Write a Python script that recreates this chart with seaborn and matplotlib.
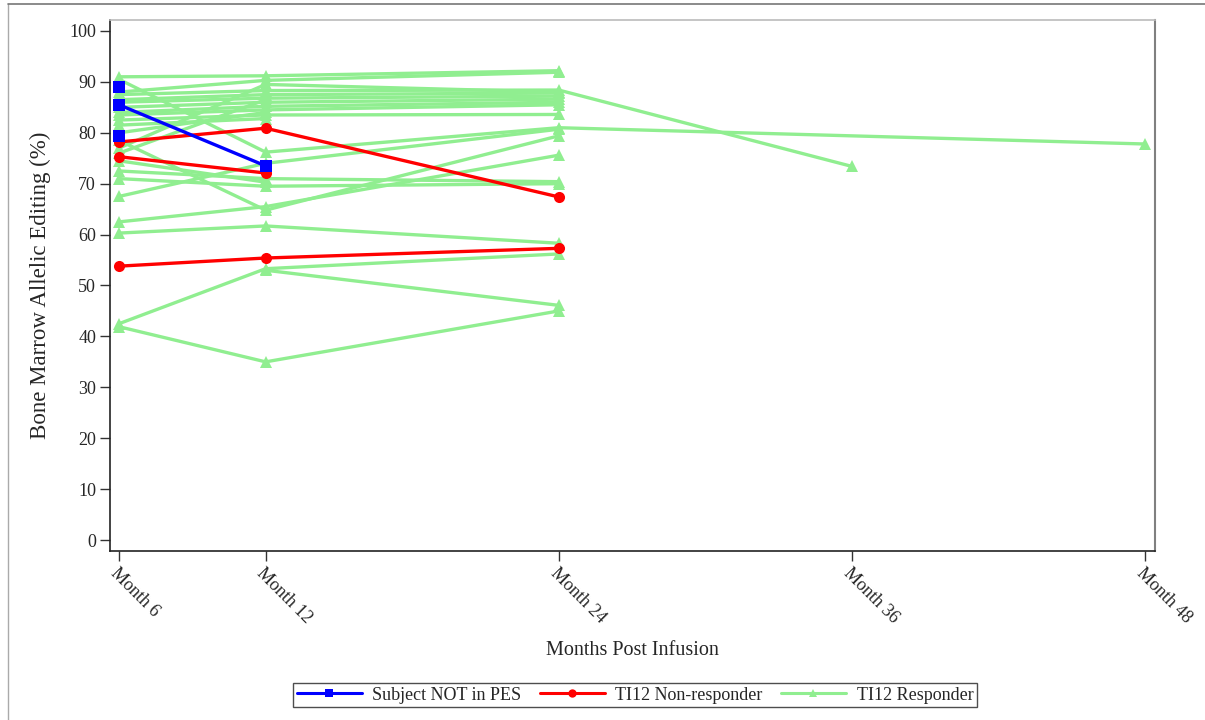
import numpy as np
import pandas as pd
import matplotlib
matplotlib.use("Agg")
import matplotlib.pyplot as plt
import seaborn as sns
from matplotlib.lines import Line2D

# ---------------- data ----------------
months = [6, 12, 24, 36, 48]
tick_labels = ["Month 6", "Month 12", "Month 24", "Month 36", "Month 48"]
groups = ["Subject NOT in PES", "TI12 Non-responder", "TI12 Responder"]
nan = np.nan

blue_subjects = [
    [89.0, nan, nan, nan, nan],
    [85.5, 73.5, nan, nan, nan],
    [79.3, nan, nan, nan, nan],
]
red_subjects = [
    [78.2, 80.9, 67.4, nan, nan],
    [75.3, 72.1, nan, nan, nan],
    [53.8, 55.4, 57.3, nan, nan],
]
green_subjects = [
    [91.0, 91.2, 92.2, nan, nan],
    [90.5, 76.2, 81.0, nan, 77.8],
    [88.0, 90.3, 91.9, nan, nan],
    [87.5, 88.3, 88.4, 73.4, nan],
    [86.5, 87.5, 87.8, nan, nan],
    [86.0, 86.8, 87.2, nan, nan],
    [85.0, 86.0, 86.6, nan, nan],
    [84.0, 85.2, 86.0, nan, nan],
    [83.5, 84.5, 85.5, nan, nan],
    [82.5, 83.5, 83.6, nan, nan],
    [81.5, 82.8, nan, nan, nan],
    [77.0, 89.5, 88.0, nan, nan],
    [76.0, 86.5, nan, nan, nan],
    [78.5, 64.8, 79.4, nan, nan],
    [62.5, 65.5, 75.6, nan, nan],
    [67.5, 74.0, 80.7, nan, nan],
    [72.5, 71.0, 70.4, nan, nan],
    [71.0, 69.5, 70.0, nan, nan],
    [74.5, 70.3, nan, nan, nan],
    [60.3, 61.7, 58.3, nan, nan],
    [42.5, 53.3, 56.2, nan, nan],
    [41.9, 35.0, 45.0, nan, nan],
    [nan, 53.0, 46.1, nan, nan],
    [80.0, 84.0, nan, nan, nan],
]

colors = {"Subject NOT in PES": "#0000FF",
          "TI12 Non-responder": "#FF0000",
          "TI12 Responder": "#90EE90"}
markers = {"Subject NOT in PES": "s",
           "TI12 Non-responder": "o",
           "TI12 Responder": "^"}

rows = []
for gname, subs in zip(groups, [blue_subjects, red_subjects, green_subjects]):
    for i, vals in enumerate(subs):
        for m, v in zip(months, vals):
            if not np.isnan(v):
                rows.append({"group": gname, "subject": f"{gname}-{i}", "month": m, "value": v})
df = pd.DataFrame(rows)

# ---------------- plot ----------------
sns.set_theme(style="white")
plt.rcParams["font.family"] = ["Liberation Serif", "DejaVu Serif"]

fig = plt.figure(figsize=(12.05, 7.2), dpi=100)
ax = fig.add_axes([110 / 1205, 1 - 551 / 720, (1155 - 110) / 1205, (551 - 20) / 720])

for gname in ["TI12 Responder", "TI12 Non-responder", "Subject NOT in PES"]:
    sub = df[df["group"] == gname]
    sns.lineplot(data=sub, x="month", y="value", units="subject", estimator=None,
                 color=colors[gname], marker=markers[gname], markersize=8,
                 markeredgewidth=0, linewidth=2.4, sort=True, legend=False, ax=ax)

ax.set_xlim(5.63, 48.41)
ax.set_ylim(-2.16, 102.16)
ax.set_xticks(months)
ax.set_xticklabels(tick_labels, rotation=-45, ha="left", va="top",
                   rotation_mode="anchor", fontsize=13)
ax.set_yticks(np.arange(0, 101, 10))
ax.tick_params(axis="both", direction="out", length=7, width=1, color="#333333",
               labelsize=13, pad=3, left=True, bottom=True)
ax.set_xlabel("Months Post Infusion", fontsize=14.5, labelpad=10)
ax.set_ylabel("Bone Marrow Allelic Editing (%)", fontsize=16.5, labelpad=13)

for s in ["left", "bottom"]:
    ax.spines[s].set_color("#222222")
    ax.spines[s].set_linewidth(1.2)
ax.spines["right"].set_color("#808080")
ax.spines["right"].set_linewidth(1.5)
ax.spines["top"].set_color("#BBBBBB")
ax.spines["top"].set_linewidth(1.2)
ax.grid(False)

handles = [Line2D([0], [0], color=colors[g], marker=markers[g], markersize=6,
                  markeredgewidth=0, linewidth=2.2) for g in groups]
leg = fig.legend(handles, groups, loc="center", bbox_to_anchor=(635 / 1205, 1 - 695 / 720),
                 ncol=3, frameon=True, fancybox=False, fontsize=13, handlelength=3.6,
                 columnspacing=1.0, handletextpad=0.6, borderpad=0.2, borderaxespad=0)
leg.get_frame().set_edgecolor("#222222")
leg.get_frame().set_linewidth(1.0)

# figure border
fig.add_artist(Line2D([8 / 1205, 8 / 1205], [0, 1 - 4 / 720], transform=fig.transFigure,
                      color="#AAAAAA", linewidth=1.0))
fig.add_artist(Line2D([8 / 1205, 1], [1 - 4 / 720, 1 - 4 / 720], transform=fig.transFigure,
                      color="#777777", linewidth=1.2))

fig.savefig("out.png", dpi=100)
